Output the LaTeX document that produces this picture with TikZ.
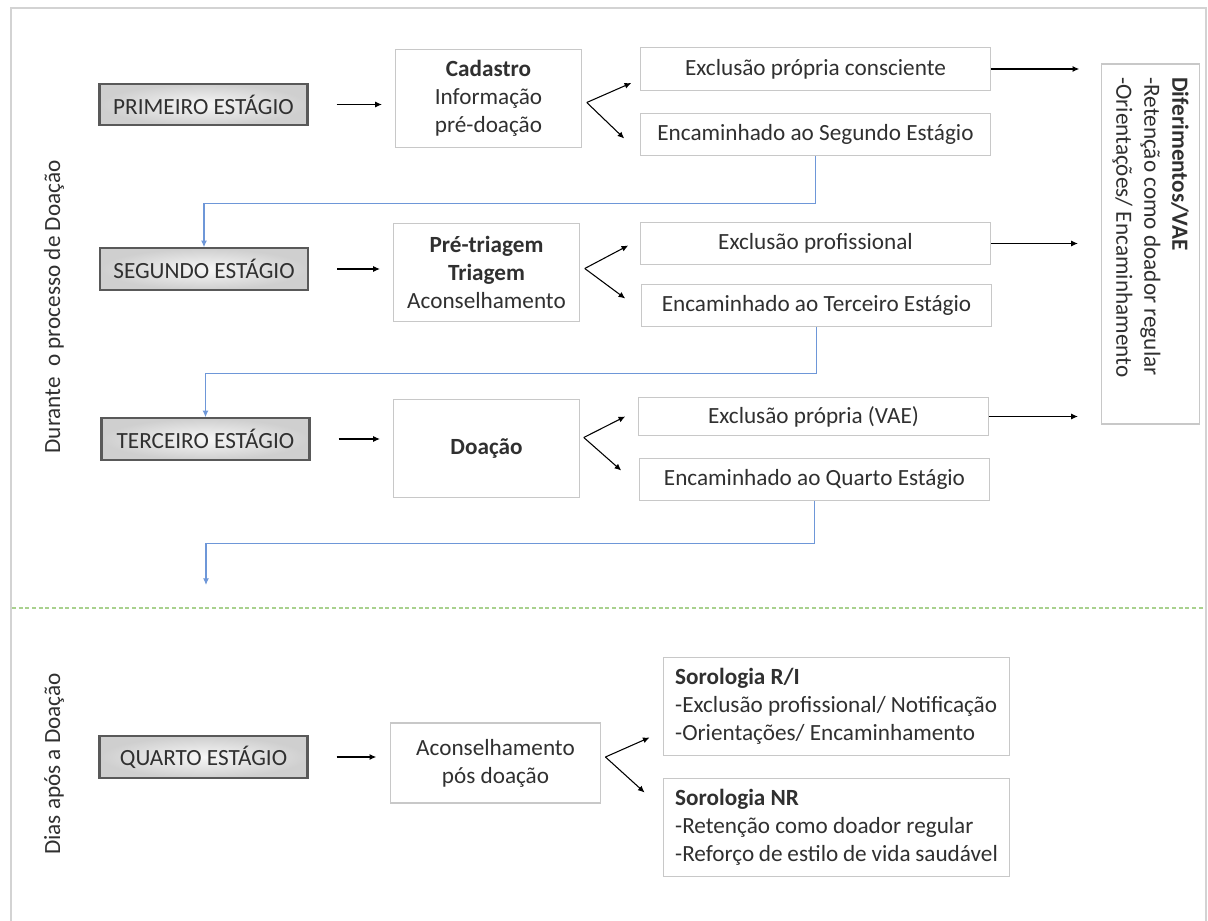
\documentclass[tikz,border=0pt]{standalone}
\usepackage{fontspec}
\setmainfont{Carlito}
\usetikzlibrary{arrows.meta,positioning,calc}
\definecolor{linegray}{HTML}{C8C8C8}
\definecolor{txtgray}{HTML}{303030}
\definecolor{flowblue}{HTML}{6E97D8}
\definecolor{sepgreen}{HTML}{A9D18E}
\tikzset{
	box/.style={draw=linegray, line width=0.9pt, fill=white, text=txtgray, align=center, inner sep=0pt, font=\fontsize{17.4}{21}\selectfont},
	stage/.style={box, draw=black!65, line width=1.6pt, inner color=gray!6, outer color=gray!38, minimum width=156pt, minimum height=31pt},
	midbox/.style={box, minimum width=139pt, minimum height=74pt},
	resbox/.style={box, minimum width=262pt, minimum height=32pt},
	serobox/.style={box, align=flush left, text width=242pt, inner xsep=9pt, minimum height=74pt},
	lbl/.style={text=txtgray, font=\fontsize{17.4}{21}\selectfont},
	arr/.style={black, line width=0.8pt, -{Latex[length=5pt,width=4.5pt]}},
	flow/.style={flowblue, line width=0.9pt, -{Latex[length=5pt,width=4.5pt]}}
}
\begin{document}
\begin{tikzpicture}[x=0.75pt, y=-0.75pt]
		\useasboundingbox (0,0) rectangle (1208,921);
		% 外框
		\draw[linegray!80, line width=1.5pt] (11,921) -- (11,8) -- (1206,8) -- (1206,921);
		\draw[sepgreen, line width=0.9pt, dash pattern=on 3pt off 2pt] (12,608) -- (1205,608);
		\node[lbl, rotate=90] (durante) at (54,307) {Durante\ \ o processo de Doação};
		\node[lbl, rotate=90] (dias) at (54,764) {Dias após a Doação};
		% 四个阶段
		\node[stage] (s1) at (203.5,104.5) {PRIMEIRO ESTÁGIO};
		\node[stage] (s2) at (204,269) {SEGUNDO ESTÁGIO};
		\node[stage] (s3) at (205.5,439) {TERCEIRO ESTÁGIO};
		\node[stage] (s4) at (203.5,757) {QUARTO ESTÁGIO};
		\node[midbox] (m1) at (488.5,98.5) {\textbf{Cadastro}\\Informação\\pré-doação};
		\node[midbox] (m2) at (486.5,272.5) {\textbf{Pré-triagem}\\\textbf{Triagem}\\Aconselhamento};
		\node[midbox] (m3) at (486.5,448.5) {\textbf{Doação}};
		\node[midbox, minimum width=158pt, minimum height=60pt] (m4) at (495.5,763) {Aconselhamento\\pós doação};
		\node[resbox] (r1a) at (815.5,69) {Exclusão própria consciente};
		\node[resbox] (r1b) at (815.5,134.5) {Encaminhado ao Segundo Estágio};
		\node[resbox] (r2a) at (815.5,243.5) {Exclusão profissional};
		\node[resbox] (r2b) at (816.5,305.5) {Encaminhado ao Terceiro Estágio};
		\node[resbox, minimum height=29pt] (r3a) at (813.5,416.5) {Exclusão própria (VAE)};
		\node[resbox, minimum height=31pt] (r3b) at (814.5,479.5) {Encaminhado ao Quarto Estágio};
		\node[serobox] (r4a) at (836.5,706.5) {\textbf{Sorologia R/I}\\-Exclusão profissional/ Notificação\\-Orientações/ Encaminhamento};
		\node[serobox] (r4b) at (836.5,827.5) {\textbf{Sorologia NR}\\-Retenção como doador regular\\-Reforço de estilo de vida saudável};
		\node[box, rotate=-90, align=flush left, text width=250pt, inner xsep=10pt, minimum height=74pt] (dif) at (1150.5,244) {\textbf{Diferimentos/VAE}\\-Retenção como doador regular\\-Orientações/ Encaminhamento};
		% 箭头
		\foreach \i in {1,2,3,4}
			\draw[arr, shorten <=21pt, shorten >=10pt] (s\i.east) -- (s\i.east -| m\i.west);
		\coordinate (b1) at ($(m1.east)+(5,4)$);
		\coordinate (b2) at ($(m2.east)+(5,-4)$);
		\coordinate (b3) at ($(m3.east)+(4,-11)$);
		\coordinate (b4) at ($(m4.east)+(4,-6)$);
		\draw[arr] (b1) -- ($(r1a.west)+(-9,14)$);
		\draw[arr] (b1) -- ($(r1b.west)+(-16,4)$);
		\draw[arr] (b2) -- ($(r2a.west)+(-12,2)$);
		\draw[arr] (b2) -- ($(r2b.west)+(-16,-7)$);
		\draw[arr] (b3) -- ($(r3a.west)+(-13,0)$);
		\draw[arr] (b3) -- ($(r3b.west)+(-18,-9)$);
		\draw[arr] (b4) -- ($(r4a.west)+(-13,31)$);
		\draw[arr] (b4) -- ($(r4b.west)+(-18,-35)$);
		\draw[arr, shorten >=16pt] (r1a.east) -- (r1a.east -| dif.south);
		\draw[arr, shorten >=17pt] (r2a.east) -- (r2a.east -| dif.south);
		\draw[arr, shorten >=17pt] (r3a.east) -- (r3a.east -| dif.south);
		% 蓝色回线
		\coordinate (c4) at (206,585);
		\draw[flow] (r1b.south) -- ++(0,47) -| (s2.north);
		\draw[flow] (r2b.south) -- ++(0,46) -| (s3.north);
		\draw[flow] (r3b.south) -- ++(0,43) -| (c4);
	\end{tikzpicture}
\end{document}
